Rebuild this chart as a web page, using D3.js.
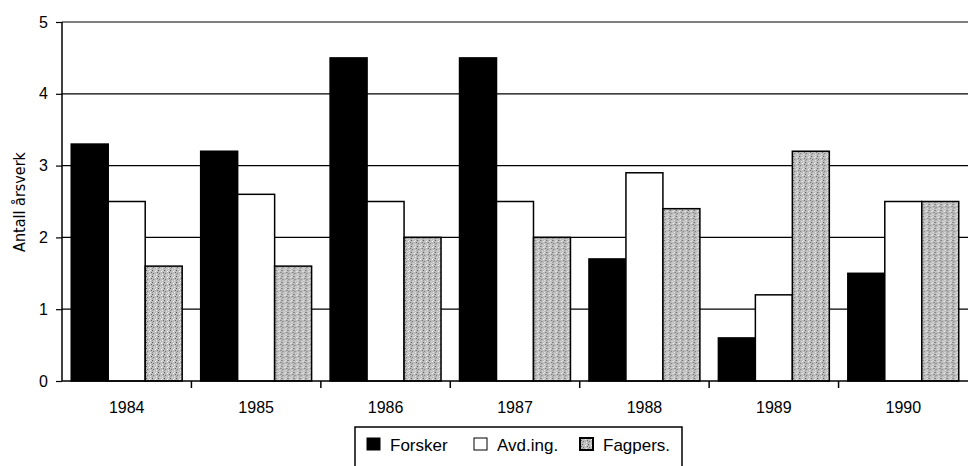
<!DOCTYPE html>
<html><head><meta charset="utf-8">
<script src="https://cdn.jsdelivr.net/npm/d3@7"></script>
<style>body{margin:0;background:#fff}svg{display:block}</style>
</head><body>
<svg id="c" width="970" height="466"></svg>
<script>
const years = ["1984","1985","1986","1987","1988","1989","1990"];
const seriesNames = ["Forsker","Avd.ing.","Fagpers."];
const forsker = [3.3, 3.2, 4.5, 4.5, 1.7, 0.6, 1.5];
const avding  = [2.5, 2.6, 2.5, 2.5, 2.9, 1.2, 2.5];
const fagpers = [1.6, 1.6, 2.0, 2.0, 2.4, 3.2, 2.5];
const yTicks = [0,1,2,3,4,5];

const svg = d3.select("#c");
const m = {l:62, r:968, t:22, b:381};
const x0 = d3.scaleBand().domain(years).range([m.l, m.r]);
const x1 = d3.scaleBand().domain(seriesNames).range([0, x0.bandwidth()]).paddingOuter(0.25);
const y = d3.scaleLinear().domain([0,5]).range([m.b, m.t]);

// texture pattern
const defs = svg.append("defs");
const pat = defs.append("pattern").attr("id","tex").attr("patternUnits","userSpaceOnUse")
  .attr("width",6).attr("height",6);
pat.append("rect").attr("width",6).attr("height",6).attr("fill","#bdbdbd");
const dots = [[0,0,"#555"],[3,1,"#fff"],[1,3,"#777"],[4,4,"#eee"],[5,2,"#666"],[2,5,"#ddd"],[0,4,"#999"],[4,0,"#e8e8e8"]];
dots.forEach(d=>pat.append("rect").attr("x",d[0]).attr("y",d[1]).attr("width",1).attr("height",1).attr("fill",d[2]));

// gridlines
svg.append("g").selectAll("line").data(yTicks.filter(d=>d>0)).join("line")
  .attr("x1",m.l).attr("x2",m.r).attr("y1",d=>y(d)).attr("y2",d=>y(d))
  .attr("stroke","#000").attr("stroke-width",1.2);

const fills = ["#000","#fff","url(#tex)"];
const data = years.map((yr,i)=>({yr, vals:[forsker[i],avding[i],fagpers[i]]}));
const g = svg.append("g").selectAll("g").data(data).join("g")
  .attr("transform",d=>`translate(${x0(d.yr)},0)`);
g.selectAll("rect").data(d=>d.vals.map((v,k)=>({v,k}))).join("rect")
  .attr("x",d=>x1(seriesNames[d.k])).attr("width",x1.bandwidth())
  .attr("y",d=>y(d.v)).attr("height",d=>y(0)-y(d.v))
  .attr("fill",d=>fills[d.k]).attr("stroke","#000").attr("stroke-width",1.5);

// y axis
const ya = svg.append("g").attr("transform",`translate(${m.l},0)`)
  .call(d3.axisLeft(y).tickValues(yTicks).tickSize(6).tickFormat(d3.format("d")));
ya.select(".domain").attr("stroke","#000").attr("stroke-width",1.5).attr("d",`M0,${m.b}V${m.t}`);
ya.selectAll(".tick line").attr("stroke","#000").attr("stroke-width",1.2);
ya.selectAll("text").attr("font-family","Liberation Sans, Arial, sans-serif").attr("font-size",16).attr("fill","#000").attr("x",-14);

// x axis
const xa = svg.append("g").attr("transform",`translate(0,${m.b})`)
  .call(d3.axisBottom(x0).tickSize(0));
xa.select(".domain").attr("stroke","#000").attr("stroke-width",1.5).attr("d",`M${m.l},0H${m.r}`);
xa.selectAll("text").attr("font-family","Liberation Sans, Arial, sans-serif").attr("font-size",16).attr("fill","#000").attr("dy",0).attr("y",32);
// category separators
svg.append("g").selectAll("line").data(years.slice(1)).join("line")
  .attr("x1",d=>x0(d)).attr("x2",d=>x0(d)).attr("y1",m.b).attr("y2",m.b+7)
  .attr("stroke","#000").attr("stroke-width",1.5);

// y label
svg.append("text").attr("transform","translate(25,202) rotate(-90)").attr("text-anchor","middle")
  .attr("font-family","Liberation Sans Narrow, DejaVu Sans Condensed, sans-serif").attr("font-size",16).text("Antall årsverk");

// legend
const lg = svg.append("g");
lg.append("path").attr("d","M355,470V427H682V470").attr("fill","none").attr("stroke","#000").attr("stroke-width",1.5);
const lx = [367, 474, 580];
seriesNames.forEach((n,k)=>{
  lg.append("rect").attr("x",lx[k]).attr("y",438).attr("width",13).attr("height",12)
    .attr("fill",fills[k]).attr("stroke","#000").attr("stroke-width",k===2?2:1);
  lg.append("text").attr("x",lx[k]+23).attr("y",451).attr("font-family","Liberation Sans, Arial, sans-serif")
    .attr("font-size",17).text(n);
});
</script>
</body></html>
